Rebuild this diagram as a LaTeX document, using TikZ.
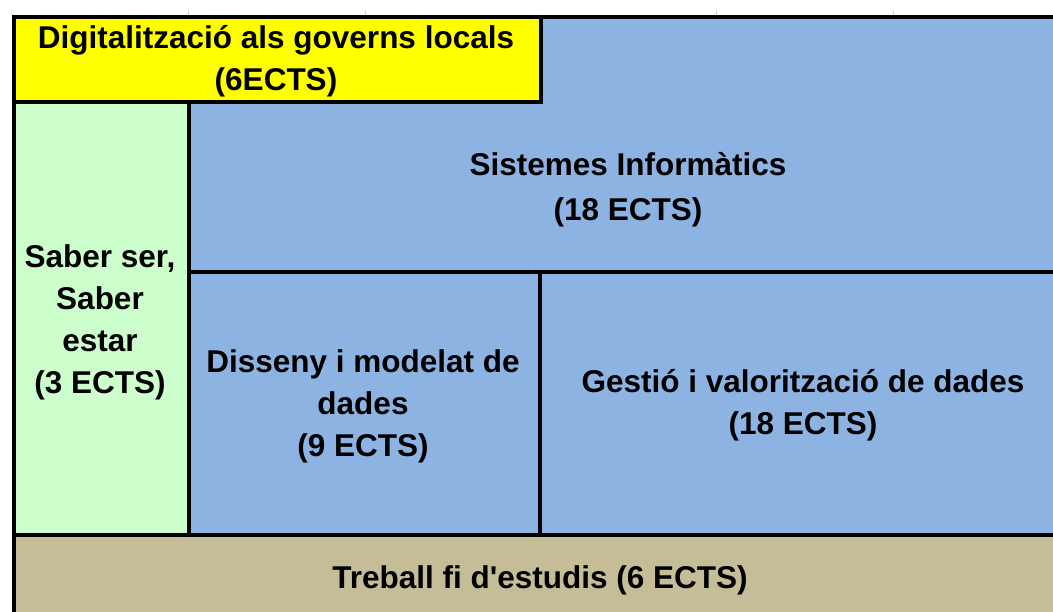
\documentclass[tikz,border=0pt]{standalone}
\usepackage{fontspec}
\setmainfont{Liberation Sans}
\definecolor{cyellow}{HTML}{FFFF00}
\definecolor{cgreen}{HTML}{CCFFCC}
\definecolor{cblue}{HTML}{8DB3E2}
\definecolor{ctan}{HTML}{C4BD97}
\begin{document}
\begin{tikzpicture}[x=1pt,y=-1pt,
  box/.style={draw=black,line width=3.6pt,inner sep=0pt,anchor=north west},
  lbl/.style={font=\fontsize{31.5}{42}\selectfont\bfseries,align=center,inner sep=0pt}]
\useasboundingbox (0,0) rectangle (1053,612);
\fill[white] (0,0) rectangle (1053,612);
\node[box,fill=cblue,minimum width=880pt,minimum height=255pt] (sis) at (187,15) {};
\node[box,fill=cblue,minimum width=352pt,minimum height=263pt] (dis) at (187,270) {};
\node[box,fill=cblue,minimum width=530pt,minimum height=263pt] (ges) at (538,270) {};
\node[box,fill=cgreen,minimum width=175pt,minimum height=433pt] (sab) at (12,100) {};
\node[box,fill=cyellow,minimum width=527pt,minimum height=85pt] (dig) at (12,15) {};
\node[box,fill=ctan,minimum width=1060pt,minimum height=90pt] (tre) at (12,533) {};
\foreach \tx in {188,365,716,893}{\draw[gray!40,line width=1pt] (\tx,11.5) -- (\tx,15);}
\node[lbl] (tdig) at (276,61) {Digitalització als governs locals\\(6ECTS)};
\node[lbl,font=\fontsize{31.5}{45}\selectfont\bfseries] (tsis) at (628,190) {Sistemes Informàtics\\(18 ECTS)};
\node[lbl] (tsab) at (100,322) {Saber ser,\\Saber\\estar\\(3 ECTS)};
\node[lbl] (tdis) at (363,406) {Disseny i modelat de\\dades\\(9 ECTS)};
\node[lbl] (tges) at (803,405) {Gestió i valorització de dades\\(18 ECTS)};
\node[lbl] (ttre) at (540,580) {Treball fi d\textquotesingle estudis (6 ECTS)};
\end{tikzpicture}
\end{document}
